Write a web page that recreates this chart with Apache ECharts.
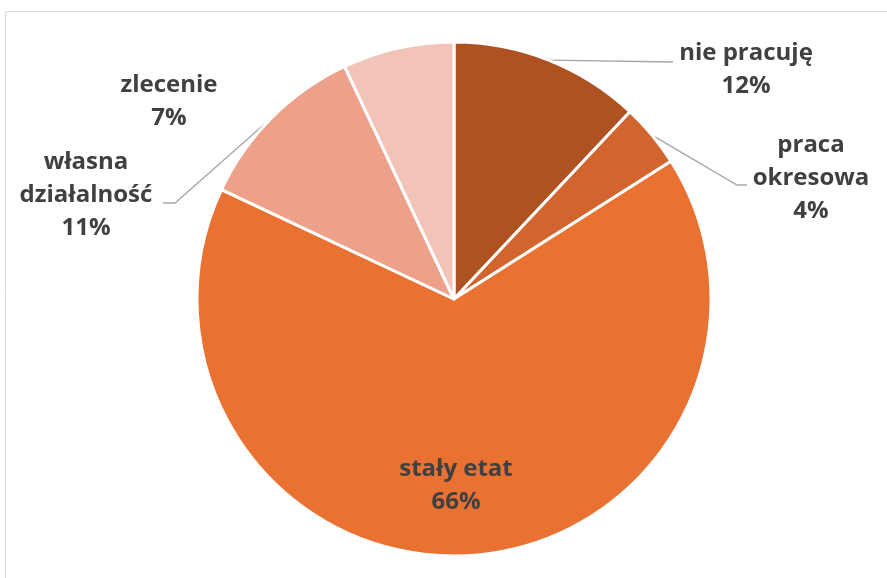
<!DOCTYPE html>
<html>
<head>
<meta charset="utf-8">
<script src="https://cdn.jsdelivr.net/npm/echarts@6/dist/echarts.min.js"></script>
<style>
  html, body { margin: 0; padding: 0; background: #fff; }
  #chart { width: 887px; height: 578px; }
</style>
</head>
<body>
<div id="chart"></div>
<script>
// Forma zatrudnienia – udział procentowy
const categories = ['nie pracuję', 'praca okresowa', 'stały etat', 'własna działalność', 'zlecenie'];
const shares = [12, 4, 66, 11, 7];
const colors = ['#AE5222', '#D2652D', '#E97233', '#EDA08A', '#F2C4B8'];

// label block centres and leader-line bends (layout only)
const labelPos = [[746, 70], [811, 178], [456, 486], [86, 195], [169, 102]];
const leaderBends = [
  [[673, 62]],
  [[737, 185], [747, 185]],
  null,
  [[175, 203], [163, 203]],
  null
];
const wrapped = { 'praca okresowa': 'praca\nokresowa', 'własna działalność': 'własna\ndziałalność' };

const chart = echarts.init(document.getElementById('chart'));

const data = categories.map((name, i) => {
  const item = { name: name, value: shares[i], itemStyle: { color: colors[i] } };
  if (name === 'stały etat') {
    item.label = { position: 'inside' };
    item.labelLine = { show: false };
  }
  if (!leaderBends[i] && name !== 'stały etat') {
    item.labelLine = { show: false };
  }
  return item;
});

chart.setOption({
  animation: false,
  graphic: [{
    type: 'rect',
    shape: { x: 5.5, y: 11.5, width: 1000, height: 1000 },
    style: { fill: 'none', stroke: '#D9D9D9', lineWidth: 1 },
    silent: true
  }],
  series: [{
    type: 'pie',
    center: [454, 299],
    radius: 257,
    startAngle: 90,
    clockwise: true,
    avoidLabelOverlap: false,
    itemStyle: { borderColor: '#FFFFFF', borderWidth: 3 },
    label: {
      show: true,
      position: 'outside',
      fontFamily: 'Open Sans',
      fontWeight: 'bold',
      fontSize: 24,
      lineHeight: 33,
      color: '#404040',
      align: 'center',
      formatter: p => (wrapped[p.name] || p.name) + '\n' + Math.round(p.percent) + '%'
    },
    labelLine: {
      show: true,
      length: 20,
      length2: 20,
      lineStyle: { color: '#A6A6A6', width: 1.3 }
    },
    labelLayout: function (params) {
      const i = params.dataIndex;
      const out = {
        x: labelPos[i][0],
        y: labelPos[i][1],
        align: 'center',
        verticalAlign: 'middle'
      };
      if (leaderBends[i] && params.labelLinePoints) {
        out.labelLinePoints = [params.labelLinePoints[0]].concat(leaderBends[i]);
      }
      return out;
    },
    data: data
  }]
});
</script>
</body>
</html>
